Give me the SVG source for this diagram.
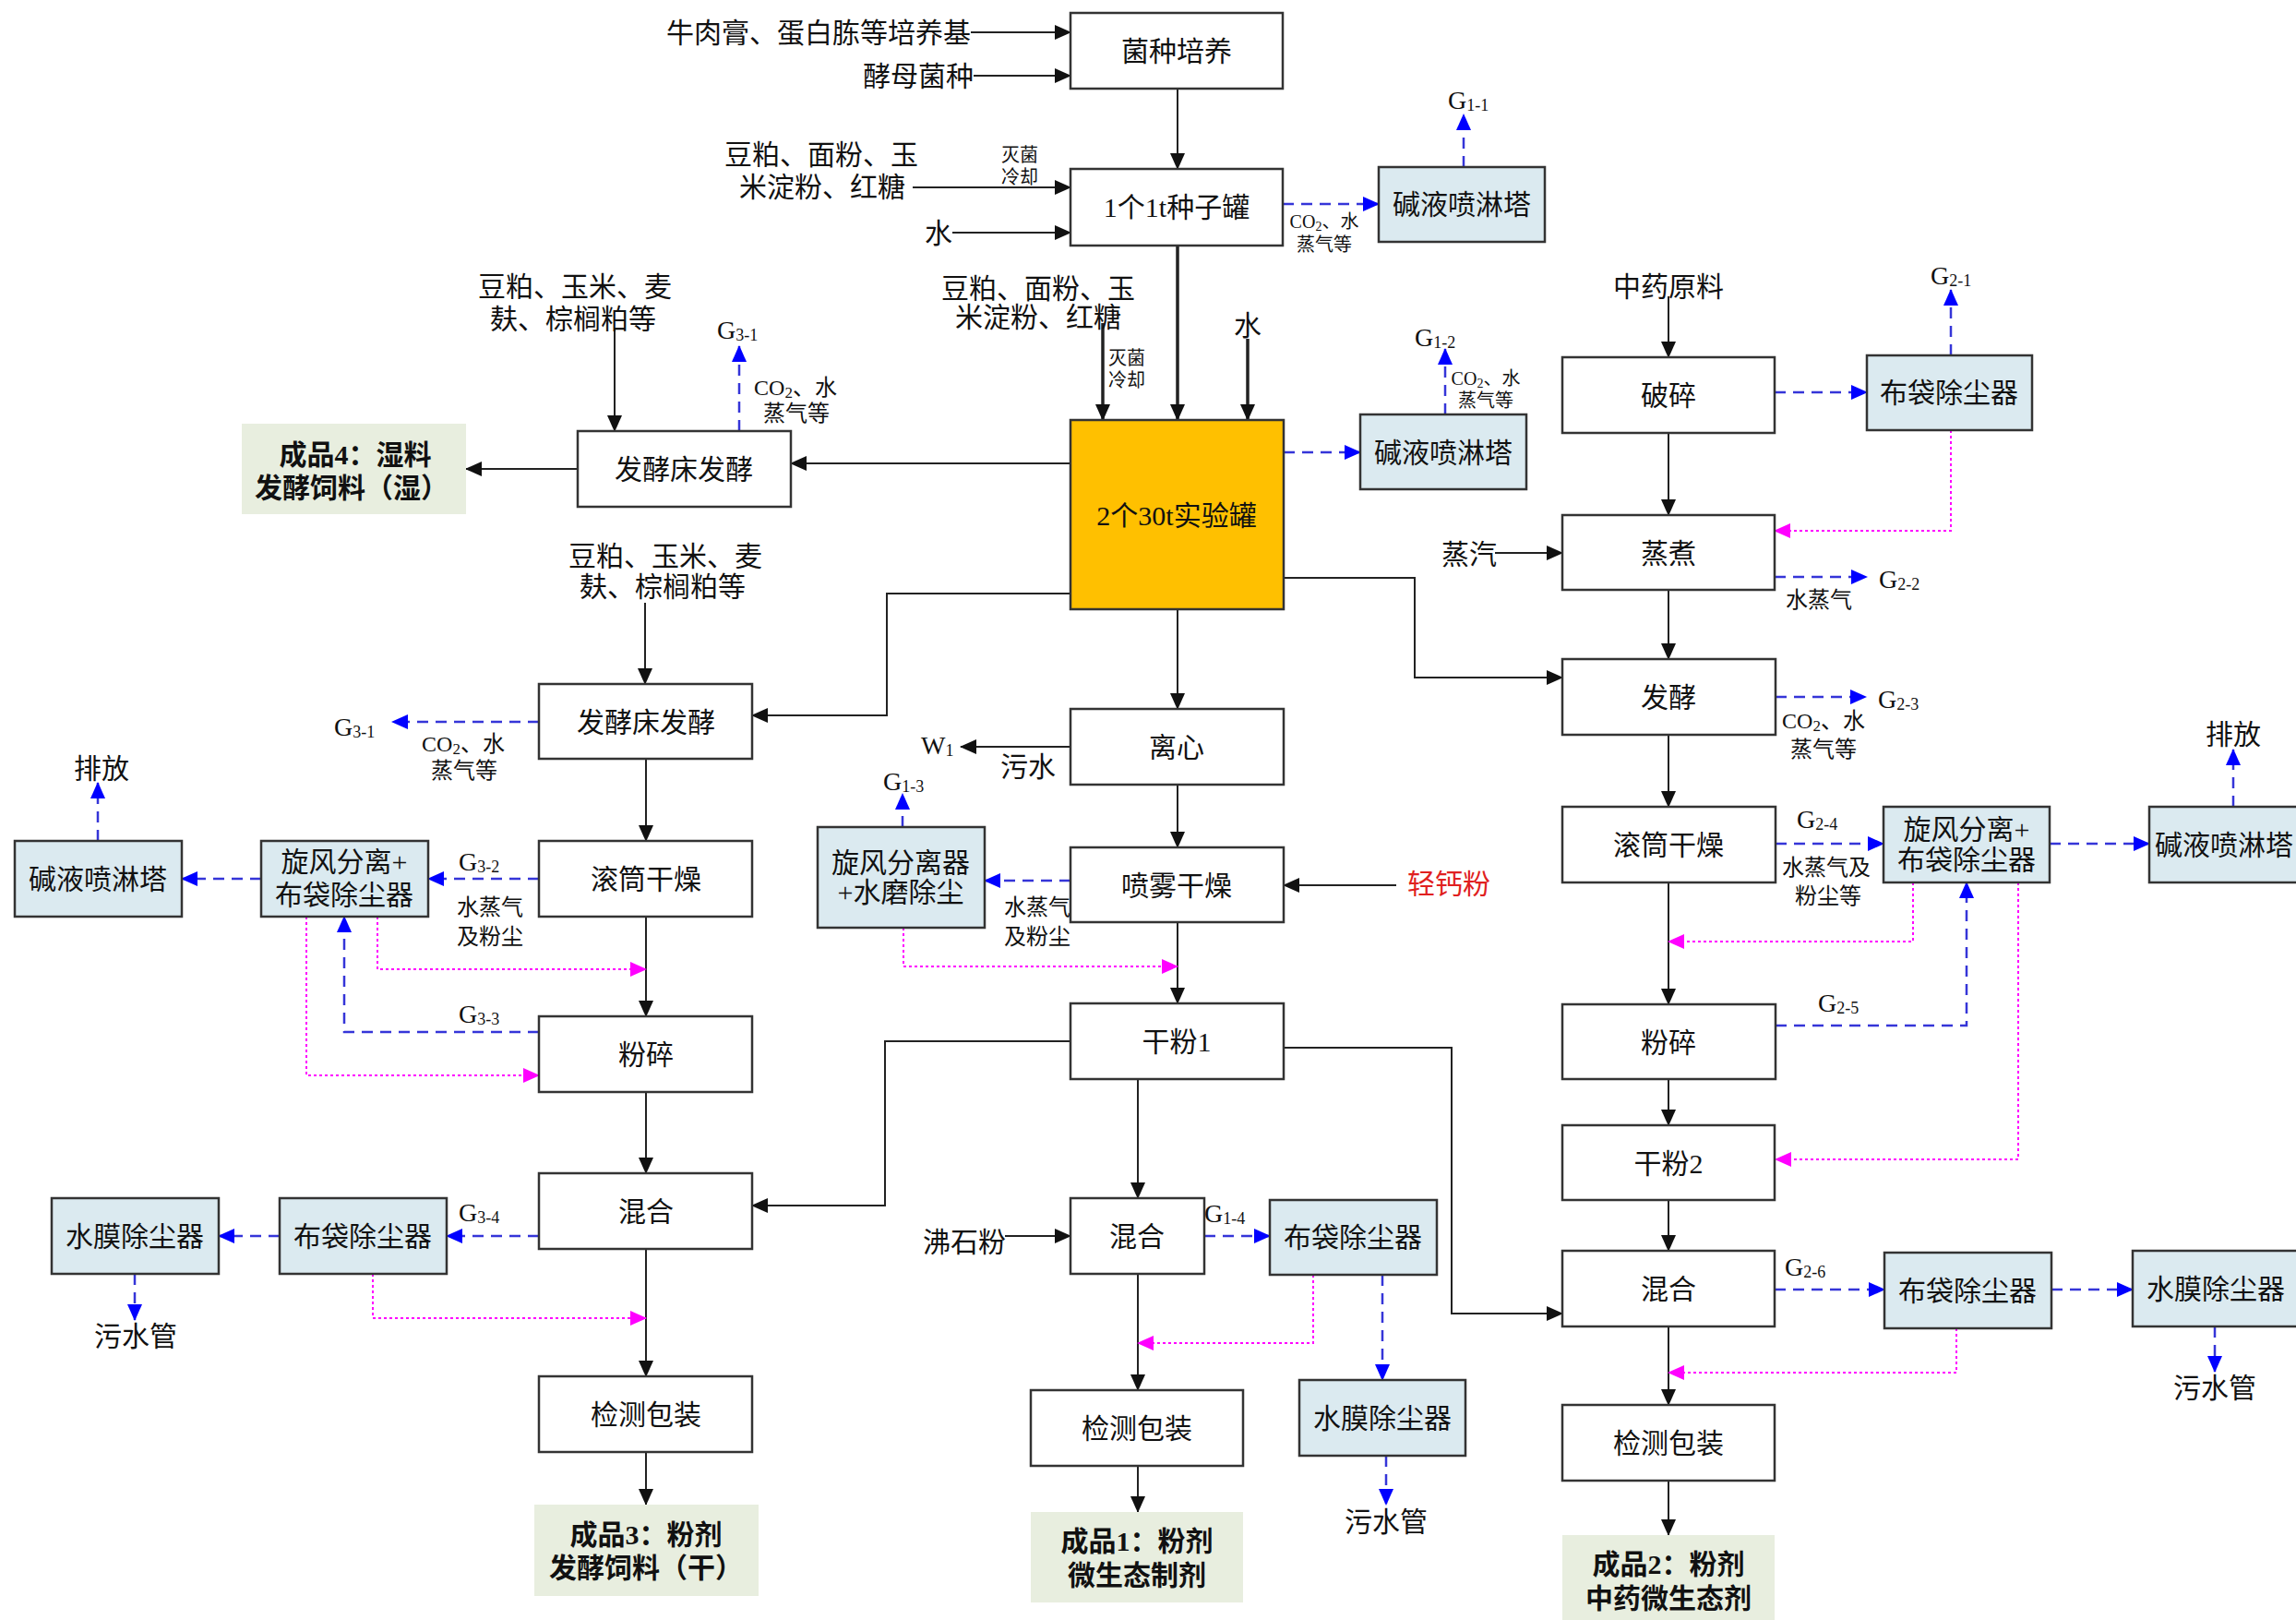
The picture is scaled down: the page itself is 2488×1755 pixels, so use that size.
<svg xmlns="http://www.w3.org/2000/svg" width="2488" height="1755" viewBox="0 0 2488 1755">
<style>
.bx{fill:#fff;stroke:#333;stroke-width:2.5}
.bl{fill:#dbeaf0;stroke:#333;stroke-width:2.5}
.pr{fill:#e8eedf;stroke:none}
.or{fill:#ffc000;stroke:#333;stroke-width:2.5}
text{font-family:"Liberation Serif","Noto Sans CJK SC",serif;font-size:30px;text-anchor:middle;dominant-baseline:central;fill:#111}
.b{font-weight:bold}
.s{font-size:24px}
.xs{font-size:20px}
.g{text-anchor:start;font-size:28px}
.red{fill:#e02020}
.c{fill:none;stroke:#222;stroke-width:2}
.k{stroke-width:3.5}
.d{fill:none;stroke:#3535d8;stroke-width:2.5;stroke-dasharray:12 8}
.m{fill:none;stroke:#ff00ff;stroke-width:2;stroke-dasharray:3 3}
</style>
<defs>
<marker id="ab" markerWidth="18" markerHeight="16" refX="17" refY="8" orient="auto" markerUnits="userSpaceOnUse"><path d="M0,0 L18,8 L0,16 z" fill="#111"/></marker>
<marker id="abl" markerWidth="18" markerHeight="16" refX="17" refY="8" orient="auto" markerUnits="userSpaceOnUse"><path d="M0,0 L18,8 L0,16 z" fill="#0000ff"/></marker>
<marker id="am" markerWidth="18" markerHeight="16" refX="17" refY="8" orient="auto" markerUnits="userSpaceOnUse"><path d="M0,0 L18,8 L0,16 z" fill="#ff00ff"/></marker>
</defs>
<rect width="2488" height="1755" fill="#fff"/>

<g id="connectors">
<g marker-end="url(#ab)">
<path class="c" d="M1052,35 H1160"/>
<path class="c" d="M1055,82 H1160"/>
<path class="c" d="M1276,96 V183"/>
<path class="c" d="M989,203 H1160"/>
<path class="c" d="M1032,252 H1160"/>
<path class="c k" d="M1276,266 V455"/>
<path class="c k" d="M1195,350 V455"/>
<path class="c k" d="M1352,367 V455"/>
<path class="c" d="M1160,502 H857"/>
<path class="c" d="M626,508 H505"/>
<path class="c" d="M666,355 V467"/>
<path class="c" d="M699,653 V741"/>
<path class="c" d="M1160,643 H961 V775 H815"/>
<path class="c" d="M700,822 V911"/>
<path class="c" d="M700,993 V1101"/>
<path class="c" d="M700,1183 V1271"/>
<path class="c" d="M1160,1128 H959 V1306 H815"/>
<path class="c" d="M700,1353 V1491"/>
<path class="c" d="M700,1573 V1630"/>
<path class="c" d="M1276,660 V768"/>
<path class="c" d="M1160,809 H1041"/>
<path class="c" d="M1276,850 V918"/>
<path class="c" d="M1513,959 H1391"/>
<path class="c" d="M1276,999 V1087"/>
<path class="c" d="M1233,1169 V1298"/>
<path class="c" d="M1089,1339 H1160"/>
<path class="c" d="M1233,1380 V1506"/>
<path class="c" d="M1233,1588 V1638"/>
<path class="c" d="M1391,1135 H1573 V1423 H1693"/>
<path class="c" d="M1391,626 H1533 V734 H1693"/>
<path class="c" d="M1808,321 V387"/>
<path class="c" d="M1808,469 V558"/>
<path class="c" d="M1620,599 H1693"/>
<path class="c" d="M1808,639 V714"/>
<path class="c" d="M1808,796 V874"/>
<path class="c" d="M1808,956 V1088"/>
<path class="c" d="M1808,1169 V1219"/>
<path class="c" d="M1808,1300 V1355"/>
<path class="c" d="M1808,1437 V1522"/>
<path class="c" d="M1808,1604 V1663"/>
</g>
<g marker-end="url(#abl)">
<path class="d" d="M1390,221 H1494"/>
<path class="d" d="M1586,181 V124"/>
<path class="d" d="M1391,490 H1474"/>
<path class="d" d="M1566,449 V378"/>
<path class="d" d="M801,467 V375"/>
<path class="d" d="M1923,425 H2023"/>
<path class="d" d="M2114,385 V314"/>
<path class="d" d="M1923,625 H2023"/>
<path class="d" d="M1924,755 H2022"/>
<path class="d" d="M1924,914 H2041"/>
<path class="d" d="M2221,914 H2329"/>
<path class="d" d="M2420,874 V812"/>
<path class="d" d="M1924,1111 H2131 V956"/>
<path class="d" d="M1923,1397 H2042"/>
<path class="d" d="M2223,1397 H2311"/>
<path class="d" d="M2400,1437 V1486"/>
<path class="d" d="M1160,954 H1067"/>
<path class="d" d="M978,896 V860"/>
<path class="d" d="M1305,1339 H1376"/>
<path class="d" d="M1498,1381 V1495"/>
<path class="d" d="M1502,1577 V1630"/>
<path class="d" d="M584,782 H425"/>
<path class="d" d="M584,952 H464"/>
<path class="d" d="M283,952 H197"/>
<path class="d" d="M106,911 V848"/>
<path class="d" d="M584,1118 H373 V993"/>
<path class="d" d="M584,1339 H484"/>
<path class="d" d="M303,1339 H237"/>
<path class="d" d="M146,1380 V1430"/>
</g>
<g marker-end="url(#am)">
<path class="m" d="M2114,466 V575 H1923"/>
<path class="m" d="M2073,956 V1020 H1808"/>
<path class="m" d="M2187,956 V1256 H1924"/>
<path class="m" d="M2120,1439 V1487 H1808"/>
<path class="m" d="M979,1005 V1047 H1276"/>
<path class="m" d="M1423,1381 V1455 H1233"/>
<path class="m" d="M409,993 V1050 H700"/>
<path class="m" d="M332,993 V1165 H584"/>
<path class="m" d="M404,1380 V1428 H700"/>
</g>
</g>

<g id="labels">
<text x="1052" y="35" style="text-anchor:end">牛肉膏、蛋白胨等培养基</text>
<text x="1055" y="82" style="text-anchor:end">酵母菌种</text>
<text x="890" y="167">豆粕、面粉、玉</text>
<text x="891" y="202">米淀粉、红糖</text>
<text class="xs" x="1105" y="168">灭菌</text>
<text class="xs" x="1105" y="192">冷却</text>
<text x="1017" y="252">水</text>
<text class="xs" x="1435" y="240">CO<tspan font-size="14" dy="5">2</tspan><tspan dy="-5">、水</tspan></text>
<text class="xs" x="1435" y="265">蒸气等</text>
<text class="g" x="1569" y="108">G<tspan font-size="18" dy="6">1-1</tspan></text>
<text class="g" x="1533" y="365">G<tspan font-size="18" dy="6">1-2</tspan></text>
<text class="xs" x="1610" y="410">CO<tspan font-size="14" dy="5">2</tspan><tspan dy="-5">、水</tspan></text>
<text class="xs" x="1610" y="434">蒸气等</text>
<text x="1125" y="312">豆粕、面粉、玉</text>
<text x="1125" y="343">米淀粉、红糖</text>
<text class="xs" x="1221" y="388">灭菌</text>
<text class="xs" x="1221" y="412">冷却</text>
<text x="1352" y="352">水</text>
<text x="623" y="310">豆粕、玉米、麦</text>
<text x="621" y="345">麸、棕榈粕等</text>
<text class="g" x="777" y="357">G<tspan font-size="18" dy="6">3-1</tspan></text>
<text class="s" x="862" y="420">CO<tspan font-size="17" dy="5">2</tspan><tspan dy="-5">、水</tspan></text>
<text class="s" x="863" y="448">蒸气等</text>
<text x="721" y="602">豆粕、玉米、麦</text>
<text x="718" y="635">麸、棕榈粕等</text>
<text x="1808" y="310">中药原料</text>
<text class="g" x="2092" y="298">G<tspan font-size="18" dy="6">2-1</tspan></text>
<text x="1592" y="600">蒸汽</text>
<text class="g" x="2036" y="627">G<tspan font-size="18" dy="6">2-2</tspan></text>
<text class="s" x="1971" y="650">水蒸气</text>
<text class="g" x="2035" y="757">G<tspan font-size="18" dy="6">2-3</tspan></text>
<text class="s" x="1976" y="781">CO<tspan font-size="17" dy="5">2</tspan><tspan dy="-5">、水</tspan></text>
<text class="s" x="1976" y="812">蒸气等</text>
<text class="g" x="1947" y="887">G<tspan font-size="18" dy="6">2-4</tspan></text>
<text class="s" x="1979" y="940">水蒸气及</text>
<text class="s" x="1981" y="971">粉尘等</text>
<text x="2420" y="795">排放</text>
<text class="g" x="1970" y="1086">G<tspan font-size="18" dy="6">2-5</tspan></text>
<text class="g" x="1934" y="1372">G<tspan font-size="18" dy="6">2-6</tspan></text>
<text x="2400" y="1503">污水管</text>
<text class="g" x="998" y="807">W<tspan font-size="18" dy="6">1</tspan></text>
<text x="1114" y="830">污水</text>
<text class="red" x="1570" y="957">轻钙粉</text>
<text class="g" x="957" y="846">G<tspan font-size="18" dy="6">1-3</tspan></text>
<text class="s" x="1124" y="983">水蒸气</text>
<text class="s" x="1124" y="1015">及粉尘</text>
<text x="1045" y="1345">沸石粉</text>
<text class="g" x="1305" y="1314">G<tspan font-size="18" dy="6">1-4</tspan></text>
<text x="1502" y="1648">污水管</text>
<text class="g" x="362" y="787">G<tspan font-size="18" dy="6">3-1</tspan></text>
<text class="s" x="502" y="806">CO<tspan font-size="17" dy="5">2</tspan><tspan dy="-5">、水</tspan></text>
<text class="s" x="503" y="835">蒸气等</text>
<text x="110" y="832">排放</text>
<text class="g" x="497" y="933">G<tspan font-size="18" dy="6">3-2</tspan></text>
<text class="s" x="531" y="983">水蒸气</text>
<text class="s" x="531" y="1015">及粉尘</text>
<text class="g" x="497" y="1098">G<tspan font-size="18" dy="6">3-3</tspan></text>
<text class="g" x="497" y="1313">G<tspan font-size="18" dy="6">3-4</tspan></text>
<text x="147" y="1447">污水管</text>
</g>

<g id="n-jzpy"><rect class="bx" x="1160" y="14" width="230" height="82"/><text x="1275" y="55">菌种培养</text></g>
<g id="n-zzg"><rect class="bx" x="1160" y="183" width="230" height="83"/><text x="1275" y="224">1个1t种子罐</text></g>
<g id="n-jy1"><rect class="bl" x="1494" y="181" width="180" height="81"/><text x="1584" y="221">碱液喷淋塔</text></g>
<g id="n-syg"><rect class="or" x="1160" y="455" width="231" height="205"/><text x="1275" y="558">2个30t实验罐</text></g>
<g id="n-jy2"><rect class="bl" x="1474" y="449" width="180" height="81"/><text x="1564" y="490">碱液喷淋塔</text></g>
<g id="n-fjc1"><rect class="bx" x="626" y="467" width="231" height="82"/><text x="741" y="508">发酵床发酵</text></g>
<g id="n-cp4"><rect class="pr" x="262" y="459" width="243" height="98"/><text class="b" x="385" y="492">成品4：湿料</text><text class="b" x="381" y="528">发酵饲料（湿）</text></g>
<g id="n-ps"><rect class="bx" x="1693" y="387" width="230" height="82"/><text x="1808" y="428">破碎</text></g>
<g id="n-bd1"><rect class="bl" x="2023" y="385" width="179" height="81"/><text x="2112" y="425">布袋除尘器</text></g>
<g id="n-zz"><rect class="bx" x="1693" y="558" width="230" height="81"/><text x="1808" y="599">蒸煮</text></g>
<g id="n-fj"><rect class="bx" x="1693" y="714" width="231" height="82"/><text x="1808" y="755">发酵</text></g>
<g id="n-gt2"><rect class="bx" x="1693" y="874" width="231" height="82"/><text x="1808" y="915">滚筒干燥</text></g>
<g id="n-xf2"><rect class="bl" x="2041" y="874" width="180" height="82"/><text x="2131" y="898">旋风分离+</text><text x="2131" y="931">布袋除尘器</text></g>
<g id="n-jy3"><rect class="bl" x="2329" y="874" width="182" height="82"/><text x="2410" y="915">碱液喷淋塔</text></g>
<g id="n-fs2"><rect class="bx" x="1693" y="1088" width="231" height="81"/><text x="1808" y="1129">粉碎</text></g>
<g id="n-gf2"><rect class="bx" x="1693" y="1219" width="230" height="81"/><text x="1808" y="1260">干粉2</text></g>
<g id="n-hh2"><rect class="bx" x="1693" y="1355" width="230" height="82"/><text x="1808" y="1396">混合</text></g>
<g id="n-bd2"><rect class="bl" x="2042" y="1357" width="181" height="82"/><text x="2132" y="1398">布袋除尘器</text></g>
<g id="n-sm2"><rect class="bl" x="2311" y="1355" width="180" height="82"/><text x="2401" y="1396">水膜除尘器</text></g>
<g id="n-jc2"><rect class="bx" x="1693" y="1522" width="230" height="82"/><text x="1808" y="1563">检测包装</text></g>
<g id="n-cp2"><rect class="pr" x="1693" y="1663" width="230" height="95"/><text class="b" x="1808" y="1694">成品2：粉剂</text><text class="b" x="1808" y="1731">中药微生态剂</text></g>
<g id="n-lx"><rect class="bx" x="1160" y="768" width="231" height="82"/><text x="1275" y="809">离心</text></g>
<g id="n-pw"><rect class="bx" x="1160" y="918" width="231" height="81"/><text x="1275" y="959">喷雾干燥</text></g>
<g id="n-xf1"><rect class="bl" x="886" y="896" width="181" height="109"/><text x="976" y="934">旋风分离器</text><text x="976" y="966">+水磨除尘</text></g>
<g id="n-gf1"><rect class="bx" x="1160" y="1087" width="231" height="82"/><text x="1275" y="1128">干粉1</text></g>
<g id="n-hh1"><rect class="bx" x="1160" y="1298" width="145" height="82"/><text x="1232" y="1339">混合</text></g>
<g id="n-bd3"><rect class="bl" x="1376" y="1300" width="181" height="81"/><text x="1466" y="1340">布袋除尘器</text></g>
<g id="n-sm3"><rect class="bl" x="1408" y="1495" width="180" height="82"/><text x="1498" y="1536">水膜除尘器</text></g>
<g id="n-jc1"><rect class="bx" x="1117" y="1506" width="230" height="82"/><text x="1232" y="1547">检测包装</text></g>
<g id="n-cp1"><rect class="pr" x="1117" y="1638" width="230" height="98"/><text class="b" x="1232" y="1669">成品1：粉剂</text><text class="b" x="1232" y="1706">微生态制剂</text></g>
<g id="n-fjc2"><rect class="bx" x="584" y="741" width="231" height="81"/><text x="700" y="782">发酵床发酵</text></g>
<g id="n-gt3"><rect class="bx" x="584" y="911" width="231" height="82"/><text x="700" y="952">滚筒干燥</text></g>
<g id="n-xf3"><rect class="bl" x="283" y="911" width="181" height="82"/><text x="373" y="933">旋风分离+</text><text x="373" y="969">布袋除尘器</text></g>
<g id="n-jy4"><rect class="bl" x="16" y="911" width="181" height="82"/><text x="106" y="952">碱液喷淋塔</text></g>
<g id="n-fs3"><rect class="bx" x="584" y="1101" width="231" height="82"/><text x="700" y="1142">粉碎</text></g>
<g id="n-hh3"><rect class="bx" x="584" y="1271" width="231" height="82"/><text x="700" y="1312">混合</text></g>
<g id="n-bd4"><rect class="bl" x="303" y="1298" width="181" height="82"/><text x="393" y="1339">布袋除尘器</text></g>
<g id="n-sm4"><rect class="bl" x="56" y="1298" width="181" height="82"/><text x="146" y="1339">水膜除尘器</text></g>
<g id="n-jc3"><rect class="bx" x="584" y="1491" width="231" height="82"/><text x="700" y="1532">检测包装</text></g>
<g id="n-cp3"><rect class="pr" x="579" y="1630" width="243" height="99"/><text class="b" x="700" y="1662">成品3：粉剂</text><text class="b" x="700" y="1698">发酵饲料（干）</text></g>
</svg>
